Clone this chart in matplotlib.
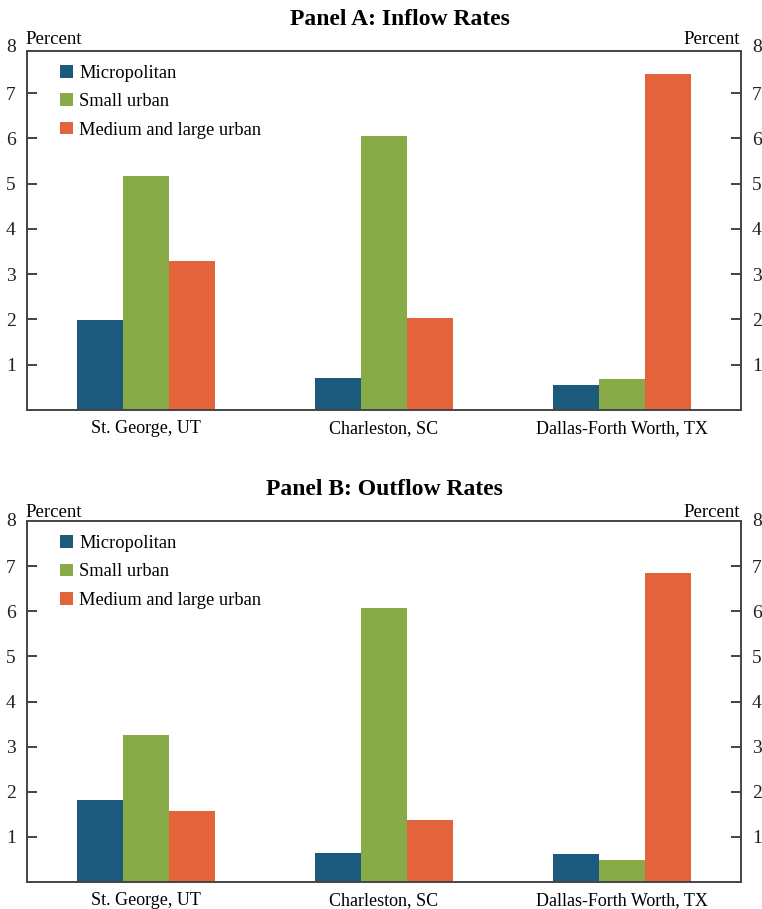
import numpy as np
from matplotlib import pyplot as plt

plt.rcParams['font.family'] = ['Liberation Serif', 'DejaVu Serif']

metros = ["St. George, UT", "Charleston, SC", "Dallas-Forth Worth, TX"]
series = ["Micropolitan", "Small urban", "Medium and large urban"]
colors = ['#1b5a7d', '#88ab47', '#e3633b']

inflow = [[1.98, 0.70, 0.55],
	[5.16, 6.06, 0.68],
	[3.29, 2.04, 7.43]]
outflow = [[1.81, 0.65, 0.61],
	[3.26, 6.07, 0.48],
	[1.585, 1.38, 6.85]]

fig = plt.figure(figsize=(7.62, 9.09), dpi=100)
ax_a = fig.add_axes([0.0354, 0.549, 0.937, 0.395])
ax_b = fig.add_axes([0.0354, 0.0297, 0.937, 0.397])

x = np.arange(len(metros))
width = 0.193
panels = [(ax_a, inflow, "Panel A: Inflow Rates", 7.93, 0.525, 0.979),
	(ax_b, outflow, "Panel B: Outflow Rates", 8.0, 0.505, 0.462)]
for ax, data, title, ytop, tx, ty in panels:
	for i in range(3):
		ax.bar(x + (i - 1) * width, data[i], width, color=colors[i],
			label=series[i], zorder=2)
	ax.set_xlim(-0.5, 2.5)
	ax.set_ylim(0, ytop)
	ax.set_yticks(range(1, 8))
	ax.set_xticks(x)
	ax.set_xticklabels(metros, fontsize=13)
	ax.tick_params(axis='x', length=0, pad=7)
	ax.tick_params(axis='y', direction='in', length=7, width=1.2,
		labelsize=14, left=True, right=True, labelleft=True,
		labelright=True, pad=8, colors='#222222')
	for s in ax.spines.values():
		s.set_color('#444444')
		s.set_linewidth(1.4)
	# top "8" labels sit outside the axes
	for xf, ha, dx in [(0, 'right', -8), (1, 'left', 8)]:
		ax.annotate("8", xy=(xf, 8), xycoords=('axes fraction', 'data'),
			xytext=(dx, 0), textcoords='offset points', ha=ha, va='center',
			fontsize=14, color='#222222', annotation_clip=False)
	ax.annotate("Percent", xy=(0, 8), xycoords=('axes fraction', 'data'),
		xytext=(-1, 6), textcoords='offset points', ha='left',
		va='center', fontsize=13.5, annotation_clip=False)
	ax.annotate("Percent", xy=(1, 8), xycoords=('axes fraction', 'data'),
		xytext=(-1, 6), textcoords='offset points', ha='right',
		va='center', fontsize=13.5, annotation_clip=False)
	fig.text(tx, ty, title, ha='center', va='center', fontsize=17,
		fontweight='bold')
	ax.legend(loc='upper left', bbox_to_anchor=(0.023, 1.008),
		frameon=False, fontsize=13.3, handlelength=0.68, handleheight=0.68,
		handletextpad=0.35, labelspacing=0.62)

fig.savefig("out.png", dpi=100)
